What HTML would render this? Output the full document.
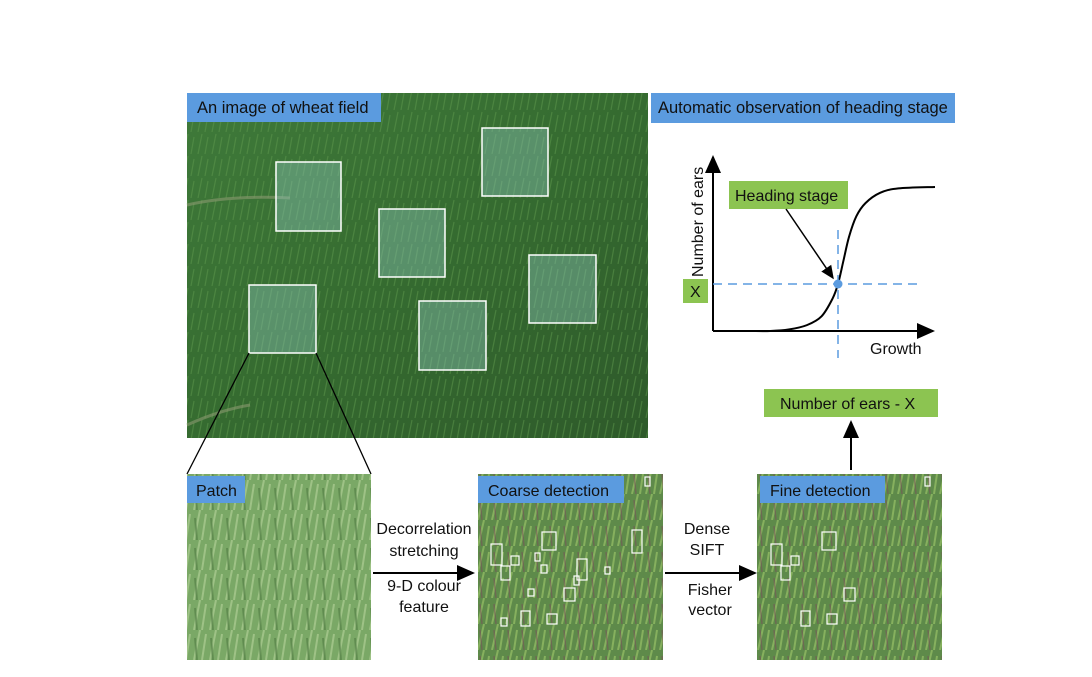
<!DOCTYPE html>
<html><head><meta charset="utf-8"><style>
body{margin:0;background:#fff;}
svg text{font-family:"Liberation Sans",sans-serif;}
</style></head><body>
<svg width="1092" height="672" viewBox="0 0 1092 672" xmlns="http://www.w3.org/2000/svg">
<defs>
<linearGradient id="field" x1="0" y1="0" x2="1" y2="1">
<stop offset="0" stop-color="#3f7a3a"/><stop offset="0.5" stop-color="#356b30"/><stop offset="1" stop-color="#2e5a2a"/></linearGradient>
<pattern id="grass" width="14" height="22" patternUnits="userSpaceOnUse">
<rect width="14" height="22" fill="none"/>
<path d="M2 22 L6 2 M9 22 L12 5" stroke="#5f9a4e" stroke-width="1.2" opacity="0.5"/></pattern>
<pattern id="grass2" width="16" height="30" patternUnits="userSpaceOnUse">
<rect width="16" height="30" fill="#7aa866"/>
<path d="M2 30 L8 0 M10 30 L14 4" stroke="#b6d39a" stroke-width="2" opacity="0.6"/>
<path d="M5 30 L3 8" stroke="#4e7a40" stroke-width="2" opacity="0.6"/></pattern>
<pattern id="grass3" width="14" height="26" patternUnits="userSpaceOnUse">
<rect width="14" height="26" fill="#5e8a4a"/>
<path d="M2 26 L8 0 M10 26 L13 6" stroke="#9fca6a" stroke-width="2" opacity="0.6"/>
<path d="M6 26 L4 6" stroke="#7a4a5a" stroke-width="1.5" opacity="0.5"/></pattern>
<marker id="ah" markerWidth="10" markerHeight="10" refX="8" refY="5" orient="auto"><path d="M0 1 L9 5 L0 9Z" fill="#000"/></marker>
</defs>

<g>
<rect x="187" y="93" width="461" height="345" fill="url(#field)"/>
<rect x="187" y="93" width="461" height="345" fill="url(#grass)"/>
<path d="M187 205 Q230 195 290 198" stroke="#8a9a70" stroke-width="3" fill="none" opacity="0.6"/>
<path d="M187 425 Q220 410 250 405" stroke="#8a9a70" stroke-width="3" fill="none" opacity="0.6"/>
</g>
<g fill="#8ec7c0" fill-opacity="0.4" stroke="#fff" stroke-width="1.5">
<rect x="276" y="162" width="65" height="69"/>
<rect x="482" y="128" width="66" height="68"/>
<rect x="379" y="209" width="66" height="68"/>
<rect x="529" y="255" width="67" height="68"/>
<rect x="249" y="285" width="67" height="68"/>
<rect x="419" y="301" width="67" height="69"/>
</g>
<rect x="187" y="93" width="194" height="29" fill="#5b9bdf"/>
<text x="197" y="113" font-size="16.5" fill="#111">An image of wheat field</text>

<line x1="249" y1="353" x2="187" y2="474" stroke="#000" stroke-width="1.3"/>
<line x1="316" y1="353" x2="371" y2="474" stroke="#000" stroke-width="1.3"/>

<rect x="651" y="93" width="304" height="30" fill="#5b9bdf"/>
<text x="658" y="113" font-size="16.5" fill="#111">Automatic observation of heading stage</text>
<g>
<line x1="713" y1="331" x2="713" y2="157" stroke="#000" stroke-width="2" marker-end="url(#ah)"/>
<line x1="713" y1="331" x2="933" y2="331" stroke="#000" stroke-width="2" marker-end="url(#ah)"/>
<path id="curve" d="" stroke="#000" stroke-width="2" fill="none" stroke-linejoin="round"/>
<line x1="713" y1="284" x2="922" y2="284" stroke="#5b9bdf" stroke-width="1.5" stroke-dasharray="9,6"/>
<line x1="838" y1="230" x2="838" y2="358" stroke="#5b9bdf" stroke-width="1.5" stroke-dasharray="9,6"/>
<circle cx="838" cy="284" r="4.5" fill="#5b9bdf"/>
<text transform="translate(703,277) rotate(-90)" font-size="16" fill="#111">Number of ears</text>
<text x="870" y="354" font-size="16" fill="#111">Growth</text>
<rect x="683" y="279" width="25" height="24" fill="#8cc451"/>
<text x="690" y="297" font-size="16" fill="#111">X</text>
<rect x="729" y="181" width="119" height="28" fill="#8cc451"/>
<text x="735" y="201" font-size="16" fill="#111">Heading stage</text>
<line x1="786" y1="209" x2="833" y2="278" stroke="#000" stroke-width="1.5" marker-end="url(#ah)"/>
</g>

<rect x="187" y="474" width="184" height="186" fill="url(#grass2)"/>
<rect x="187" y="476" width="58" height="27" fill="#5b9bdf"/>
<text x="196" y="496" font-size="16" fill="#111">Patch</text>

<line x1="373" y1="573" x2="473" y2="573" stroke="#000" stroke-width="2" marker-end="url(#ah)"/>
<text x="424" y="534" font-size="16" text-anchor="middle" fill="#111">Decorrelation</text>
<text x="424" y="556" font-size="16" text-anchor="middle" fill="#111">stretching</text>
<text x="424" y="591" font-size="16" text-anchor="middle" fill="#111">9-D colour</text>
<text x="424" y="612" font-size="16" text-anchor="middle" fill="#111">feature</text>

<rect x="478" y="474" width="185" height="186" fill="url(#grass3)"/>
<g id="coarseBoxes" fill="none" stroke="#fff" stroke-width="1.2"></g>
<rect x="478" y="476" width="146" height="27" fill="#5b9bdf"/>
<text x="488" y="496" font-size="16" fill="#111">Coarse detection</text>

<line x1="665" y1="573" x2="755" y2="573" stroke="#000" stroke-width="2" marker-end="url(#ah)"/>
<text x="707" y="534" font-size="16" text-anchor="middle" fill="#111">Dense</text>
<text x="707" y="555" font-size="16" text-anchor="middle" fill="#111">SIFT</text>
<text x="710" y="595" font-size="16" text-anchor="middle" fill="#111">Fisher</text>
<text x="710" y="615" font-size="16" text-anchor="middle" fill="#111">vector</text>

<rect x="757" y="474" width="185" height="186" fill="url(#grass3)"/>
<g id="fineBoxes" fill="none" stroke="#fff" stroke-width="1.2"></g>
<rect x="760" y="476" width="125" height="27" fill="#5b9bdf"/>
<text x="770" y="496" font-size="16" fill="#111">Fine detection</text>

<line x1="851" y1="470" x2="851" y2="422" stroke="#000" stroke-width="2" marker-end="url(#ah)"/>
<rect x="764" y="389" width="174" height="28" fill="#8cc451"/>
<text x="780" y="409" font-size="16" fill="#111">Number of ears - X</text>
</svg>
<script>
const growthVals=[0,0.1,0.2,0.3,0.38,0.44,0.47,0.5,0.53,0.57,0.62,0.7,0.8,1];
const earVals=[0,0,0.01,0.04,0.1,0.22,0.32,0.48,0.64,0.78,0.87,0.94,0.97,0.98];
const coarseX=[491,542,632,511,501,535,541,577,574,605,528,564,521,547,501,645];
const coarseY=[544,532,530,556,566,553,565,559,576,567,589,588,611,614,618,477];
const coarseW=[11,14,10,8,9,5,6,10,5,5,6,11,9,10,6,5];
const coarseH=[21,18,23,9,14,8,8,21,9,7,7,13,15,10,8,9];
const fineIdx=[0,1,3,4,11,12,13,15];
const xs=g=>752+g*(935-752), ys=e=>331-e*(331-184);
// smooth Catmull-Rom path through samples
const P=growthVals.map((g,i)=>[xs(g),ys(earVals[i])]);
let d='M'+P[0][0]+' '+P[0][1];
for(let i=0;i<P.length-1;i++){
 const p0=P[Math.max(0,i-1)],p1=P[i],p2=P[i+1],p3=P[Math.min(P.length-1,i+2)];
 d+=' C'+(p1[0]+(p2[0]-p0[0])/6)+' '+(p1[1]+(p2[1]-p0[1])/6)+' '+(p2[0]-(p3[0]-p1[0])/6)+' '+(p2[1]-(p3[1]-p1[1])/6)+' '+p2[0]+' '+p2[1];
}
document.getElementById('curve').setAttribute('d',d);
const ns='http://www.w3.org/2000/svg';
const cg=document.getElementById('coarseBoxes'), fg=document.getElementById('fineBoxes');
coarseX.forEach((x,i)=>{
 const r=document.createElementNS(ns,'rect');
 r.setAttribute('x',x);r.setAttribute('y',coarseY[i]);r.setAttribute('width',coarseW[i]);r.setAttribute('height',coarseH[i]);
 
 
 cg.appendChild(r);
});
fineIdx.forEach(i=>{
 const r=document.createElementNS(ns,'rect');
 r.setAttribute('x',coarseX[i]+280);r.setAttribute('y',coarseY[i]);r.setAttribute('width',coarseW[i]);r.setAttribute('height',coarseH[i]);
 
 
 fg.appendChild(r);
});
</script>
</body></html>
